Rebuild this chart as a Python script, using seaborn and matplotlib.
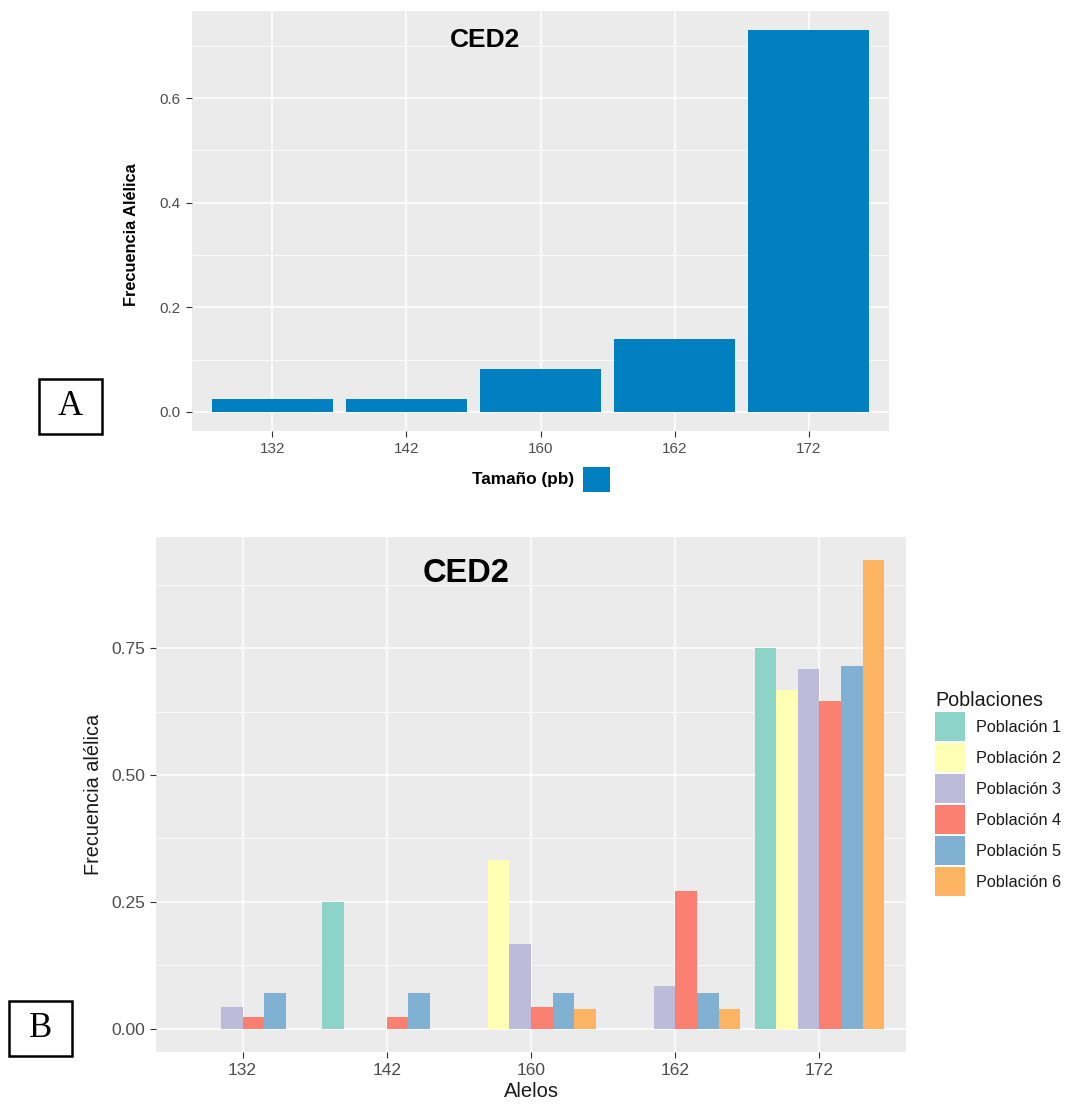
import matplotlib
matplotlib.use("Agg")
import matplotlib.pyplot as plt
from matplotlib.patches import Rectangle, Patch
import seaborn as sns
import pandas as pd

# ---- data ---------------------------------------------------------------
alelos = ["132", "142", "160", "162", "172"]

# pooled allele frequencies (panel A)
frec_total = [0.024, 0.024, 0.082, 0.140, 0.730]

# per-population allele frequencies (panel B); None = allele absent
poblaciones = ["Población 1", "Población 2", "Población 3",
               "Población 4", "Población 5", "Población 6"]
pob1 = [None, 0.250, None, None, 0.750]
pob2 = [None, None, 0.333, None, 0.667]
pob3 = [0.042, None, 0.167, 0.083, 0.708]
pob4 = [0.023, 0.023, 0.042, 0.271, 0.646]
pob5 = [0.071, 0.071, 0.071, 0.071, 0.714]
pob6 = [None, None, 0.038, 0.038, 0.923]

set3 = ["#8DD3C7", "#FFFFB3", "#BEBADA", "#FB8072", "#80B1D3", "#FDB462"]
azul = "#0080C0"

# ---- helpers ------------------------------------------------------------
W, H = 1073, 1104
sns.set_theme(style="white")
plt.rcParams["font.family"] = ["Liberation Sans", "DejaVu Sans"]

fig = plt.figure(figsize=(W / 100, H / 100), dpi=100)
fig.patch.set_facecolor("white")


def px_axes(left, top, right, bottom):
    return fig.add_axes([left / W, 1 - bottom / H, (right - left) / W, (bottom - top) / H])


def gg_style(ax, yticks, yminor, ylabels, fs, pad):
    ax.set_facecolor("#EBEBEB")
    for s in ax.spines.values():
        s.set_visible(False)
    ax.set_xlim(-0.6, 4.6)
    ax.set_yticks(yticks)
    ax.set_yticklabels(ylabels)
    ax.set_yticks(yminor, minor=True)
    ax.set_xticks(range(len(alelos)))
    ax.set_xticklabels(alelos)
    ax.grid(True, which="major", color="white", linewidth=1.1)
    ax.grid(True, which="minor", axis="y", color="white", linewidth=0.55)
    ax.set_axisbelow(True)
    ax.tick_params(which="major", length=4, width=0.8, color="#333333",
                   labelcolor="#4D4D4D", labelsize=fs, pad=pad,
                   bottom=True, left=True)
    ax.tick_params(which="minor", length=0, left=False)
    ax.set_xlabel("")
    ax.set_ylabel("")


# ---- panel A ------------------------------------------------------------
axA = px_axes(192, 11, 889, 431)
dfA = pd.DataFrame({"Alelo": alelos, "Frecuencia": frec_total})
sns.barplot(data=dfA, x="Alelo", y="Frecuencia", order=alelos, color=azul,
            width=0.9, errorbar=None, saturation=1, linewidth=0, ax=axA)
ymaxA = max(frec_total)
axA.set_ylim(-0.05 * ymaxA, 1.05 * ymaxA)
gg_style(axA, [0, 0.2, 0.4, 0.6], [0.1, 0.3, 0.5, 0.7],
         ["0.0", "0.2", "0.4", "0.6"], 11, 4)
fig.text(485 / W, 1 - 40 / H, "CED2", ha="center", va="center",
         fontsize=19, fontweight="bold", color="black")

fig.text(131 / W, 1 - 235 / H, "Frecuencia Alélica", rotation=90,
         ha="center", va="center", fontsize=11.8, fontweight="bold", color="black")
fig.text(574 / W, 1 - 480 / H, "Tamaño (pb)", ha="right", va="center",
         fontsize=12.4, fontweight="bold", color="black")
fig.patches.append(Rectangle((583 / W, 1 - 492 / H), 27 / W, 25 / H,
                             transform=fig.transFigure, facecolor=azul,
                             edgecolor="none"))

# ---- panel B ------------------------------------------------------------
axB = px_axes(156, 537, 906, 1052)
filas = []
for nombre, serie in zip(poblaciones, [pob1, pob2, pob3, pob4, pob5, pob6]):
    for alelo, v in zip(alelos, serie):
        if v is not None:
            filas.append({"Alelo": alelo, "Población": nombre, "Frecuencia": v})
dfB = pd.DataFrame(filas)
sns.barplot(data=dfB, x="Alelo", y="Frecuencia", hue="Población",
            order=alelos, hue_order=poblaciones, palette=set3, width=0.9,
            errorbar=None, saturation=1, linewidth=0, legend=False, ax=axB)
ymaxB = dfB["Frecuencia"].max()
axB.set_ylim(-0.05 * ymaxB, 1.05 * ymaxB)
gg_style(axB, [0, 0.25, 0.5, 0.75], [0.125, 0.375, 0.625, 0.875],
         ["0.00", "0.25", "0.50", "0.75"], 12.5, 4)
fig.text(466 / W, 1 - 573 / H, "CED2", ha="center", va="center",
         fontsize=23.5, fontweight="bold", color="black")
axB.set_ylabel("Frecuencia alélica", fontsize=14.3, color="#1A1A1A", labelpad=6)
axB.set_xlabel("Alelos", fontsize=14.5, color="#1A1A1A", labelpad=3)

handles = [Patch(facecolor=c, edgecolor="none") for c in set3]
leg = fig.legend(handles, poblaciones, title="Poblaciones", loc="upper left",
                 bbox_to_anchor=(932 / W, 1 - 688 / H), frameon=False,
                 fontsize=11.7, title_fontsize=14.2, handlelength=1.85,
                 handleheight=2.37, labelspacing=0.12, handletextpad=0.68,
                 borderaxespad=0, borderpad=0.2, alignment="left")
for t in leg.get_texts():
    t.set_color("#1A1A1A")
leg.get_title().set_color("#1A1A1A")

# ---- panel letters ------------------------------------------------------
for letra, (l, t, r, b) in [("A", (39, 379, 102, 434)), ("B", (9, 1001, 72, 1056))]:
    fig.patches.append(Rectangle((l / W, 1 - b / H), (r - l) / W, (b - t) / H,
                                 transform=fig.transFigure, facecolor="white",
                                 edgecolor="black", linewidth=1.8))
    fig.text((l + r) / 2 / W, 1 - (t + b) / 2 / H, letra, ha="center",
             va="center", fontsize=25, family="Liberation Serif", color="black")

fig.savefig("out.png", dpi=100)
